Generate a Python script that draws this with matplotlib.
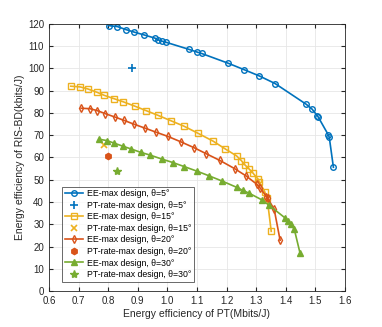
import numpy as np
import matplotlib.pyplot as plt

plt.rcParams['font.family'] = ['Liberation Sans', 'DejaVu Sans']

# EE-max design, theta = 5 deg
ee5_x = [0.802, 0.831, 0.861, 0.888, 0.920, 0.958, 0.967, 0.983, 0.994, 1.072,
         1.099, 1.116, 1.206, 1.258, 1.311, 1.364, 1.469, 1.489, 1.507, 1.510,
         1.544, 1.547, 1.561]
ee5_y = [119.2, 118.8, 117.4, 116.3, 115.1, 113.6, 112.9, 112.2, 111.8, 108.6,
         107.4, 106.7, 102.3, 99.5, 96.6, 93.2, 83.9, 81.7, 78.7, 78.1,
         70.1, 69.1, 55.6]
pt5 = (0.880, 100.1)

# EE-max design, theta = 15 deg
ee15_x = [0.674, 0.705, 0.731, 0.762, 0.787, 0.820, 0.851, 0.891, 0.929, 0.967,
          1.012, 1.057, 1.103, 1.155, 1.196, 1.234, 1.250, 1.261, 1.275, 1.288,
          1.307, 1.311, 1.329, 1.337, 1.351]
ee15_y = [92.0, 91.7, 90.8, 89.3, 87.9, 86.4, 85.0, 83.0, 81.0, 79.0,
          76.5, 74.0, 70.9, 67.3, 63.8, 60.7, 58.6, 56.8, 55.0, 53.2,
          50.2, 49.0, 44.6, 41.9, 26.8]
pt15 = (0.787, 65.6)

# EE-max design, theta = 20 deg
ee20_x = [0.709, 0.739, 0.764, 0.790, 0.822, 0.853, 0.886, 0.924, 0.963, 1.001,
          1.046, 1.090, 1.131, 1.177, 1.227, 1.266, 1.302, 1.313, 1.335, 1.339,
          1.361, 1.381]
ee20_y = [82.1, 81.9, 81.0, 79.7, 78.2, 76.7, 75.0, 73.2, 71.3, 69.5,
          67.0, 64.4, 61.7, 58.7, 55.0, 51.7, 48.0, 46.4, 42.4, 41.7,
          36.7, 22.8]
pt20 = (0.800, 60.8)

# EE-max design, theta = 30 deg
ee30_x = [0.769, 0.795, 0.821, 0.851, 0.878, 0.910, 0.941, 0.981, 1.019, 1.057,
          1.101, 1.140, 1.185, 1.234, 1.255, 1.277, 1.320, 1.344, 1.398, 1.409,
          1.417, 1.429, 1.448]
ee30_y = [68.2, 67.6, 66.4, 65.0, 63.8, 62.3, 61.1, 59.3, 57.7, 55.9,
          53.8, 51.8, 49.4, 46.6, 45.2, 43.9, 40.9, 38.5, 32.8, 31.6,
          30.0, 27.7, 17.2]
pt30 = (0.831, 53.9)

blue = '#0072BD'
yellow = '#EDB120'
red = '#D95319'
green = '#77AC30'

fig = plt.figure(figsize=(3.82, 3.27), dpi=100)
ax = fig.add_axes([0.128, 0.110, 0.775, 0.817])

ms = 4
ax.plot(ee5_x, ee5_y, '-o', color=blue, mfc='none', ms=ms, lw=1.2,
        label='EE-max design, θ=5°')
ax.plot(*pt5, '+', color=blue, ms=6, mew=1.2, ls='none',
        label='PT-rate-max design, θ=5°')
ax.plot(ee15_x, ee15_y, '-s', color=yellow, mfc='none', ms=ms, lw=1.2,
        label='EE-max design, θ=15°')
ax.plot(*pt15, 'x', color=yellow, ms=5, mew=1.2, ls='none',
        label='PT-rate-max design, θ=15°')
ax.plot(ee20_x, ee20_y, '-d', color=red, mfc='none', ms=ms, lw=1.2,
        label='EE-max design, θ=20°')
ax.plot(*pt20, 'h', color=red, ms=4.5, ls='none',
        label='PT-rate-max design, θ=20°')
ax.plot(ee30_x, ee30_y, '-^', color=green, ms=ms + 1, lw=1.2,
        label='EE-max design, θ=30°')
ax.plot(*pt30, '*', color=green, ms=6, ls='none',
        label='PT-rate-max design, θ=30°')

ax.set_xlim(0.6, 1.6)
ax.set_ylim(0, 120)
ax.set_xticks(np.arange(0.6, 1.61, 0.1))
ax.set_yticks(np.arange(0, 121, 10))
ax.set_xticklabels(['0.6', '0.7', '0.8', '0.9', '1.0', '1.1', '1.2', '1.3',
                    '1.4', '1.5', '1.6'])
ax.tick_params(direction='in', labelsize=7, colors='#262626', length=3,
               top=True, right=True)
ax.grid(True, color='#e6e6e6', lw=0.6)
ax.set_axisbelow(True)
for s in ax.spines.values():
    s.set_color('#262626')
    s.set_linewidth(0.6)

ax.set_xlabel('Energy efficiency of PT(Mbits/J)', fontsize=7.5, color='#262626',
              labelpad=2)
ax.set_ylabel('Energy efficiency of RIS-BD(kbits/J)', fontsize=7.5,
              color='#262626', labelpad=2)

leg = ax.legend(loc='lower left', bbox_to_anchor=(0.045, 0.035), fontsize=6.3,
                fancybox=False, edgecolor='#262626', handlelength=2.1,
                handletextpad=0.4, borderpad=0.3, labelspacing=0.29,
                borderaxespad=0)
leg.get_frame().set_linewidth(0.6)

fig.savefig('out.png', dpi=100)
